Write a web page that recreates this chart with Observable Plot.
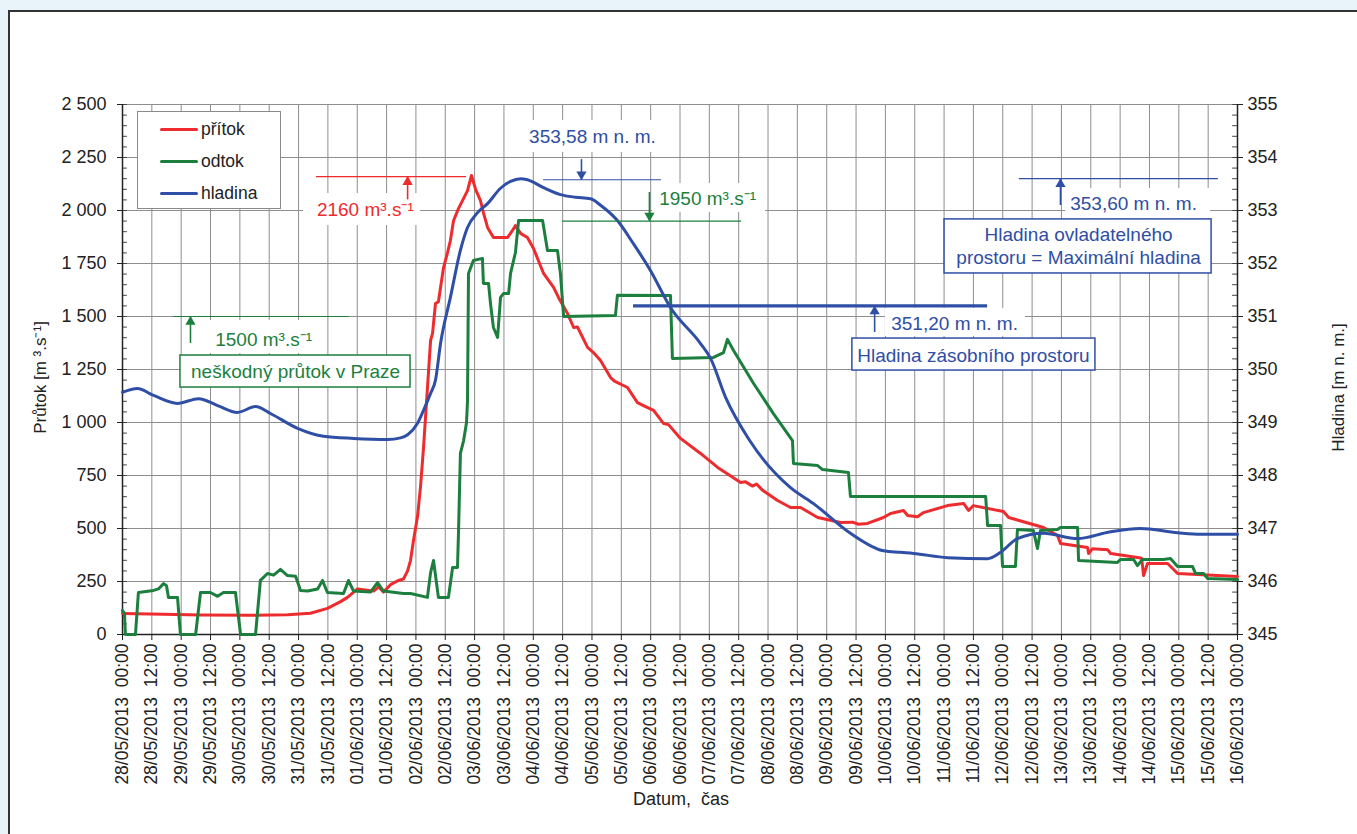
<!DOCTYPE html>
<html><head><meta charset="utf-8">
<script src="https://cdn.jsdelivr.net/npm/d3@7"></script>
<script src="https://cdn.jsdelivr.net/npm/@observablehq/plot@0.6"></script>
<style>
html,body{margin:0;padding:0;}
body{width:1357px;height:834px;overflow:hidden;background:#e8f3fa;font-family:"Liberation Sans",Arial,sans-serif;position:relative;}
#sheet{position:absolute;left:8px;top:10px;width:1400px;height:900px;background:#fff;border-left:2px solid #333;border-top:2px solid #333;}
#chart{position:absolute;left:0;top:0;}
#legend{position:absolute;left:137px;top:111px;width:144px;height:98px;border:1px solid #8a8a8a;background:#fff;box-sizing:border-box;}
#legend .ln{position:absolute;left:22px;width:38px;height:3px;border-radius:2px;}
#legend .tx{position:absolute;left:63px;font-size:17.5px;line-height:20px;color:#222;}
</style></head>
<body>
<div id="sheet"></div>
<div id="chart"></div>
<div id="legend"></div>
<script>
const RED = "#ee2b2e", GREEN = "#1c7f3d", BLUE = "#2f4ea5";
const T0 = Date.UTC(2013, 4, 28);
const hr = h => new Date(T0 + h * 36e5);

// series: [hours since 28/05/2013 00:00, value]
const inflow = [[0,99],[11.5,97],[32,92],[52.4,91],[67.5,93],[76.9,100],[83.8,123],[89.2,155],[92,175],[96.1,215],[99.4,210],[102.7,205],[104.7,225],[106.7,200],[109.6,235],[112.9,255],[114.9,262],[116.6,300],[117.8,350],[119,443],[120.7,560],[121.9,700],[123.1,880],[124.7,1160],[126,1387],[126.8,1420],[128,1561],[129.2,1570],[131.3,1731],[132.9,1800],[134.1,1858],[135.4,1953],[137.4,2009],[139.5,2057],[141.1,2094],[142.7,2165],[144.4,2100],[146.4,2047],[147.6,1990],[149.3,1920],[151.7,1873],[157.5,1873],[159.5,1906],[160.7,1929],[162.8,1892],[165.6,1873],[168.1,1821],[172.2,1703],[176.3,1637],[178.3,1590],[182,1514],[184.5,1448],[186.1,1450],[190.2,1354],[192.6,1330],[195.5,1292],[199.6,1212],[201.2,1195],[206.5,1165],[210.6,1094],[213.9,1075],[217.2,1057],[221.3,995],[223.3,990],[228.2,925],[236.4,854],[243.4,788],[252.8,717],[254.8,720],[257.7,700],[259.3,710],[261.8,680],[267.9,632],[273.2,599],[277.3,599],[284.3,552],[293.7,528],[298.6,530],[301,520],[304.7,524],[311.2,552],[314.1,571],[319.4,585],[321.1,561],[325.1,555],[327.6,575],[337.4,608],[344,618],[346,585],[348,608],[360.3,580],[362.4,552],[376.7,505],[382.4,467],[383.6,429],[394.7,410],[395.1,382],[396.7,405],[402.9,400],[404.1,382],[415.1,363],[416.8,360],[417.6,278],[419.2,335],[427.4,335],[431.5,288],[456,274]];

const outflow = [[0,113],[0.8,100],[1.2,0],[5.3,0],[6.5,198],[12.7,208],[14.7,215],[16.8,240],[18,230],[18.8,175],[22.5,175],[23.7,0],[29.9,0],[31.9,198],[36,198],[38.9,180],[41.3,198],[46.2,198],[48.3,0],[54.4,0],[56.4,255],[59.3,288],[61.8,280],[64.6,307],[67.5,278],[70.8,275],[72.8,208],[75.7,205],[79.8,215],[81.8,255],[83.8,198],[90.4,193],[92.4,255],[94.5,205],[101.4,200],[104.3,245],[106.7,205],[114.9,193],[117.8,193],[124.7,175],[126,292],[127.2,349],[129.2,175],[133.3,175],[135,316],[137,316],[137.4,476],[138.2,854],[139.5,915],[140.7,1000],[141.1,1104],[141.5,1703],[143.5,1764],[147.2,1774],[147.6,1656],[149.7,1656],[150.5,1561],[151.7,1448],[153.4,1401],[154.6,1590],[155.8,1608],[157.9,1608],[158.7,1703],[160.7,1802],[162,1953],[171.8,1953],[173.8,1811],[177.9,1811],[179.1,1703],[180.4,1500],[201.6,1505],[202.4,1600],[224.1,1599],[224.9,1302],[241.7,1307],[245.8,1330],[247.4,1392],[249.9,1340],[258.1,1184],[266.2,1042],[274,915],[274.4,807],[284.3,797],[286.3,778],[296.9,764],[297.7,651],[353,651],[353.8,514],[359.1,514],[359.9,321],[365.2,321],[366,495],[372.5,491],[374.2,406],[375.4,491],[382.4,495],[383.6,505],[390.6,505],[391,349],[406.9,340],[408.2,354],[413.5,354],[415.1,325],[417.1,354],[425.7,354],[428.6,358],[431.5,321],[437.6,321],[438.8,288],[442.1,288],[443.8,264],[456,259]];

// water level [m n. m.]
const level = [[0,349.57],[6.1,349.64],[12.7,349.51],[22.5,349.36],[31.1,349.45],[38.9,349.32],[47,349.19],[54.4,349.30],[60.5,349.17],[71.6,348.89],[82.2,348.74],[94.5,348.70],[108.4,348.68],[113.7,348.71],[116.6,348.77],[120.6,348.98],[123.1,349.23],[126,349.55],[128,349.8],[130.1,350.5],[134.1,351.36],[138.2,352.25],[141.1,352.68],[145.2,352.96],[149.3,353.13],[154.6,353.42],[158.7,353.55],[162.8,353.60],[165.6,353.58],[172.2,353.43],[179.1,353.30],[185.3,353.25],[191.4,353.22],[195.5,353.10],[202.4,352.81],[209,352.37],[215.9,351.87],[224.1,351.17],[236.4,350.49],[240.5,350.21],[246.7,349.47],[256.5,348.66],[273.2,347.77],[282.6,347.47],[297.7,346.91],[311.2,346.58],[318.2,346.55],[323.5,346.53],[337.4,346.45],[353.8,346.43],[359.1,346.55],[366,346.81],[376.7,346.91],[390.6,346.81],[404.1,346.94],[416.3,347.0],[431.5,346.92],[440.9,346.89],[456,346.89]];

const leftTicks = [0,250,500,750,1000,1250,1500,1750,2000,2250,2500];
const rightTicks = [345,346,347,348,349,350,351,352,353,354,355];
const seriesNames = ["přítok","odtok","hladina"];

const toLeft = m => (m - 345) * 250;

// annotations (data coordinates: hours, left-axis value)
const annoRules = [
  {h1:79.3, h2:140.7, v:2160, c:RED, w:1.2},
  {h1:20.9, h2:92.8, v:1500, c:GREEN, w:1.2},
  {h1:172.2, h2:220.4, v:toLeft(353.58), c:BLUE, w:1.2},
  {h1:180, h2:253.2, v:1950, c:GREEN, w:1.2},
  {h1:209, h2:353.8, v:toLeft(351.20), c:BLUE, w:3.2},
  {h1:366.8, h2:448.2, v:toLeft(353.60), c:BLUE, w:1.2}
];
const annoArrows = [
  {h:116.6, from:2050, to:2160, c:RED, up:true},
  {h:27.8, from:1373, to:1500, c:GREEN, up:true},
  {h:187.7, from:2240, to:toLeft(353.58), c:BLUE, up:false},
  {h:215.5, from:2085, to:1950, c:GREEN, up:false},
  {h:307.6, from:1425, to:toLeft(351.20), c:BLUE, up:true},
  {h:383.6, from:2024, to:toLeft(353.60), c:BLUE, up:true}
];
const annoBoxes = [
  {h1:74, h2:121.9, v1:2080, v2:1929, c:null},
  {h1:30.3, h2:75.7, v1:1481, v2:1325, c:null},
  {h1:23.7, h2:117.8, v1:1316, v2:1165, c:GREEN},
  {h1:163.6, h2:222.9, v1:2425, v2:2274, c:null},
  {h1:216.8, h2:263, v1:2127, v2:1991, c:null},
  {h1:312, h2:369.3, v1:1538, v2:1406, c:null},
  {h1:298.5, h2:397.9, v1:1396, v2:1245, c:BLUE},
  {h1:385.7, h2:445, v1:2104, v2:1962, c:null},
  {h1:336.2, h2:445.4, v1:1958, v2:1703, c:BLUE}
];
const annoTexts = [
  {h:99.3, v:2005, t:"2160 m³.s⁻¹", c:RED},
  {h:57.7, v:1390, t:"1500 m³.s⁻¹", c:GREEN},
  {h:70.8, v:1241, t:"neškodný průtok v Praze", c:GREEN},
  {h:192.2, v:2345, t:"353,58 m n. m.", c:BLUE},
  {h:239.3, v:2055, t:"1950 m³.s⁻¹", c:GREEN},
  {h:340.3, v:1467, t:"351,20 m n. m.", c:BLUE},
  {h:348, v:1316, t:"Hladina zásobního prostoru", c:BLUE},
  {h:413.5, v:2030, t:"353,60 m n. m.", c:BLUE},
  {h:391, v:1887, t:"Hladina ovladatelného", c:BLUE},
  {h:391, v:1776, t:"prostoru = Maximální hladina", c:BLUE}
];

const xTicks = d3.utcHour.every(12).range(hr(0), hr(457));
const minorTicks = d3.range(0, 2501, 50);
const fmtX = d => d3.utcFormat("%d/%m/%Y")(d) + "\u00a0\u00a0" + d3.utcFormat("%H:%M")(d);
const fmtL = d => d3.format(",")(d).replace(/,/g, " ");
const fmtR = d => String(rightTicks[leftTicks.indexOf(d)]);

const GRID = "#8e8e8e";
const chart = Plot.plot({
  width: 1357, height: 834,
  marginLeft: 122, marginRight: 120, marginTop: 104, marginBottom: 200,
  style: {fontFamily: "'Liberation Sans', Arial, sans-serif", fontSize: "18px", background: "none", overflow: "visible", color: "#222"},
  x: {type: "utc", domain: [hr(0), hr(456)]},
  y: {domain: [0, 2500]},
  marks: [
    Plot.gridX(xTicks, {stroke: GRID, strokeOpacity: 1, strokeWidth: 1}),
    Plot.gridY(leftTicks, {stroke: GRID, strokeOpacity: 1, strokeWidth: 1}),
    Plot.ruleY(minorTicks, {y: d => d, x1: hr(0), x2: hr(2), stroke: "#444", strokeWidth: 1}),
    Plot.ruleY(minorTicks, {y: d => d, x1: hr(454), x2: hr(456), stroke: "#444", strokeWidth: 1}),
    Plot.axisY(leftTicks, {anchor: "left", tickSize: 5, tickPadding: 11, tickFormat: fmtL, label: null, fontSize: 18}),
    Plot.axisY(leftTicks, {anchor: "right", tickSize: 5, tickPadding: 5, tickFormat: fmtR, label: null, fontSize: 18}),
    Plot.axisX(xTicks, {anchor: "bottom", tickSize: 6, tickPadding: 3, tickRotate: -90, tickFormat: fmtX, label: null, fontSize: 17.5}),
    Plot.ruleY([0], {stroke: "#222", strokeWidth: 1.5}),
    Plot.ruleX([hr(0), hr(456)], {stroke: "#222", strokeWidth: 1.5}),
    // series
    Plot.line(inflow, {x: d => hr(d[0]), y: d => d[1], stroke: RED, strokeWidth: 3, strokeLinejoin: "round"}),
    Plot.line(outflow, {x: d => hr(d[0]), y: d => d[1], stroke: GREEN, strokeWidth: 3, strokeLinejoin: "round"}),
    Plot.line(level, {x: d => hr(d[0]), y: d => toLeft(d[1]), stroke: BLUE, strokeWidth: 3, curve: "monotone-x"}),
    // annotations
    Plot.ruleY(annoRules, {y: "v", x1: d => hr(d.h1), x2: d => hr(d.h2), stroke: "c", strokeWidth: "w"}),
    Plot.rect(annoBoxes, {x1: d => hr(d.h1), x2: d => hr(d.h2), y1: "v1", y2: "v2", fill: "white", stroke: d => d.c || "none", strokeWidth: 1.5}),
    Plot.ruleX(annoArrows, {x: d => hr(d.h), y1: "from", y2: "to", stroke: "c", strokeWidth: 1.6}),
    Plot.dot(annoArrows.filter(d => d.up), {x: d => hr(d.h), y: "to", symbol: "triangle", r: 3.8, fill: "c", stroke: "none", dy: 5.4}),
    Plot.dot(annoArrows.filter(d => !d.up), {x: d => hr(d.h), y: "to", symbol: "triangle", r: 3.8, fill: "c", stroke: "none", rotate: 180, dy: -5.4}),
    Plot.text(annoTexts, {x: d => hr(d.h), y: "v", text: "t", fill: "c", fontSize: 19}),
    // axis titles
    Plot.text(["Průtok [m ³.s⁻¹]"], {text: d => d, frameAnchor: "left", textAnchor: "middle", dx: -82, dy: 8, rotate: -90, fontSize: 17, fill: "#222"}),
    Plot.text(["Hladina [m n. m.]"], {text: d => d, frameAnchor: "right", textAnchor: "middle", dx: 101, dy: 18, rotate: -90, fontSize: 17, fill: "#222"}),
    Plot.text(["Datum,  čas"], {text: d => d.replace("  ", "\u00a0 "), frameAnchor: "bottom", dx: 1, dy: 170, fontSize: 18, fill: "#222"})
  ]
});
document.getElementById("chart").append(chart);

// legend
const legend = document.getElementById("legend");
const legendColors = [RED, GREEN, BLUE];
seriesNames.forEach((name, i) => {
  const yc = 17 + i * 32;
  const ln = document.createElement("div");
  ln.className = "ln"; ln.style.top = (yc - 1.5) + "px"; ln.style.background = legendColors[i];
  const tx = document.createElement("div");
  tx.className = "tx"; tx.style.top = (yc - 10) + "px"; tx.textContent = name;
  legend.append(ln, tx);
});
</script>
</body></html>
